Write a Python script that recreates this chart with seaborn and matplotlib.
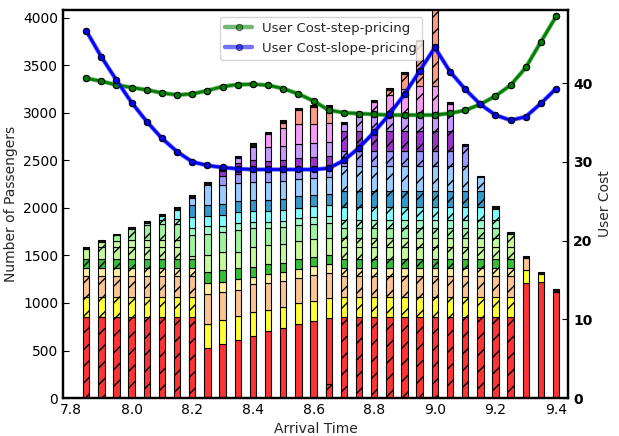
import matplotlib
matplotlib.use("Agg")
import matplotlib.pyplot as plt
import seaborn as sns
import numpy as np
import pandas as pd

sns.set_style("white")
plt.rcParams['font.family'] = ['DejaVu Sans']
plt.rcParams['hatch.linewidth'] = 1.0

# ---------------- data ----------------
arrival_time = [7.85, 7.90, 7.95, 8.00, 8.05, 8.10, 8.15, 8.20, 8.25, 8.30, 8.35,
                8.40, 8.45, 8.50, 8.55, 8.60, 8.65, 8.70, 8.75, 8.80, 8.85, 8.90,
                8.95, 9.00, 9.05, 9.10, 9.15, 9.20, 9.25, 9.30, 9.35, 9.40]

# user cost lines (right axis)
cost_step = [40.64, 40.25, 39.79, 39.45, 39.15, 38.77, 38.51, 38.64, 39.07, 39.58, 39.83,
             39.87, 39.75, 39.32, 38.64, 37.75, 36.58, 36.26, 36.14, 36.05, 35.96, 35.96,
             35.96, 35.96, 36.18, 36.56, 37.32, 38.38, 39.75, 42.00, 45.27, 48.49]
cost_slope = [46.67, 43.35, 40.38, 37.54, 35.12, 32.99, 31.30, 30.02, 29.55, 29.30, 29.13,
              29.04, 29.04, 29.04, 29.04, 29.04, 29.20, 30.19, 31.80, 33.80, 36.05, 38.60,
              41.57, 44.54, 41.48, 39.24, 37.32, 35.96, 35.29, 35.75, 37.45, 39.32]

# stacked passenger segments, step-pricing (hatched bars)
step_red      = [850, 850, 850, 850, 850, 850, 850, 850, 0, 0, 0, 0, 0, 0, 0, 0, 150,
                 850, 850, 850, 850, 850, 850, 850, 850, 850, 850, 850, 850, 0, 0, 0]
step_yellow   = [210, 210, 210, 210, 210, 210, 210, 210, 0, 0, 0, 0, 0, 0, 0, 0, 0,
                 210, 210, 210, 210, 210, 210, 210, 210, 210, 210, 210, 210, 0, 0, 0]
step_peach    = [225, 225, 225, 225, 225, 225, 225, 225, 0, 0, 0, 0, 0, 0, 0, 0, 0,
                 225, 225, 225, 225, 225, 225, 225, 225, 225, 225, 225, 225, 0, 0, 0]
step_khaki    = [80, 80, 80, 80, 80, 80, 80, 80, 0, 0, 0, 0, 0, 0, 0, 0, 0,
                 80, 80, 80, 80, 80, 80, 80, 80, 80, 80, 80, 80, 0, 0, 0]
step_green    = [100, 100, 100, 100, 100, 100, 100, 100, 0, 0, 0, 0, 0, 0, 0, 0, 0,
                 100, 100, 100, 100, 100, 100, 100, 100, 100, 100, 100, 100, 0, 0, 0]
step_lime     = [100, 125, 125, 125, 125, 125, 125, 0, 0, 0, 0, 0, 0, 0, 0, 0, 0,
                 128, 128, 128, 128, 128, 128, 128, 128, 128, 128, 128, 128, 0, 0, 0]
step_lime2    = [0, 50, 65, 75, 75, 75, 75, 0, 0, 0, 0, 0, 0, 0, 0, 0, 0,
                 90, 90, 90, 90, 90, 90, 90, 90, 90, 90, 90, 132, 0, 0, 0]
step_pale     = [0, 0, 55, 110, 150, 160, 160, 0, 0, 0, 0, 0, 0, 0, 0, 0, 0,
                 103, 103, 103, 103, 103, 103, 103, 103, 103, 103, 103, 0, 0, 0, 0]
step_aqua     = [0, 0, 0, 0, 25, 50, 55, 0, 0, 0, 0, 0, 0, 0, 0, 0, 0,
                 88, 88, 88, 88, 88, 88, 88, 88, 88, 88, 88, 0, 0, 0, 0]
step_cyan     = [0, 0, 0, 0, 0, 40, 100, 0, 0, 0, 0, 0, 0, 0, 0, 0, 0,
                 133, 133, 133, 133, 133, 133, 133, 133, 133, 133, 113, 0, 0, 0, 0]
step_steel    = [0, 0, 0, 0, 0, 0, 0, 0, 0, 0, 0, 0, 0, 0, 0, 0, 0,
                 165, 165, 165, 165, 165, 165, 165, 165, 165, 165, 0, 0, 0, 0, 0]
step_sky      = [0, 0, 0, 0, 0, 0, 0, 0, 0, 0, 0, 0, 0, 0, 0, 0, 0,
                 263, 263, 263, 263, 263, 263, 263, 263, 263, 148, 0, 0, 0, 0, 0]
step_slate    = [0, 0, 0, 0, 0, 0, 0, 0, 0, 0, 0, 0, 0, 0, 0, 0, 0,
                 165, 165, 165, 165, 165, 165, 165, 165, 215, 0, 0, 0, 0, 0, 0]
step_orchid   = [0, 0, 0, 0, 0, 0, 0, 0, 0, 0, 0, 0, 0, 0, 0, 0, 0,
                 203, 203, 203, 203, 203, 203, 203, 203, 0, 0, 0, 0, 0, 0, 0]
step_lavender = [0, 0, 0, 0, 0, 0, 0, 0, 0, 0, 0, 0, 0, 0, 0, 0, 0,
                 77, 185, 180, 180, 180, 180, 180, 180, 0, 0, 0, 0, 0, 0, 0]
step_violet   = [0, 0, 0, 0, 0, 0, 0, 0, 0, 0, 0, 0, 0, 0, 0, 0, 0,
                 0, 0, 127, 200, 270, 300, 300, 107, 0, 0, 0, 0, 0, 0, 0]
step_salmon   = [0, 0, 0, 0, 0, 0, 0, 0, 0, 0, 0, 0, 0, 0, 0, 0, 0,
                 0, 0, 0, 57, 157, 467, 867, 0, 0, 0, 0, 0, 0, 0, 0]
step_cap      = [20, 20, 20, 20, 20, 20, 25, 0, 0, 0, 0, 0, 0, 0, 0, 0, 0,
                 20, 20, 20, 20, 20, 20, 0, 20, 20, 20, 28, 20, 0, 0, 0]

# stacked passenger segments, slope-pricing (plain bars)
slope_red      = [0, 0, 0, 0, 0, 0, 0, 480, 523, 565, 610, 656, 700, 740, 775, 810, 840,
                  0, 0, 0, 0, 0, 0, 0, 0, 0, 0, 0, 0, 1207, 1225, 1120]
slope_yellow   = [0, 0, 0, 0, 0, 0, 0, 250, 256, 256, 253, 246, 230, 220, 220, 215, 210,
                  0, 0, 0, 0, 0, 0, 0, 0, 0, 0, 0, 0, 140, 80, 0]
slope_peach    = [0, 0, 0, 0, 0, 0, 0, 310, 312, 298, 274, 294, 280, 270, 270, 265, 265,
                  0, 0, 0, 0, 0, 0, 0, 0, 0, 0, 0, 0, 123, 0, 0]
slope_khaki    = [0, 0, 0, 0, 0, 0, 0, 110, 116, 105, 116, 74, 90, 95, 95, 95, 90,
                  0, 0, 0, 0, 0, 0, 0, 0, 0, 0, 0, 0, 0, 0, 0]
slope_green    = [0, 0, 0, 0, 0, 0, 0, 110, 116, 123, 119, 112, 105, 100, 100, 100, 100,
                  0, 0, 0, 0, 0, 0, 0, 0, 0, 0, 0, 0, 0, 0, 0]
slope_lime     = [0, 0, 0, 0, 0, 0, 0, 230, 182, 193, 168, 211, 200, 195, 190, 185, 180,
                  0, 0, 0, 0, 0, 0, 0, 0, 0, 0, 0, 0, 0, 0, 0]
slope_pale     = [0, 0, 0, 0, 0, 0, 0, 226, 218, 204, 228, 193, 180, 175, 170, 165, 160,
                  0, 0, 0, 0, 0, 0, 0, 0, 0, 0, 0, 0, 0, 0, 0]
slope_aqua     = [0, 0, 0, 0, 0, 0, 0, 77, 81, 67, 71, 70, 70, 70, 70, 70, 70,
                  0, 0, 0, 0, 0, 0, 0, 0, 0, 0, 0, 0, 0, 0, 0]
slope_cyan     = [0, 0, 0, 0, 0, 0, 0, 109, 112, 115, 115, 112, 110, 110, 110, 110, 110,
                  0, 0, 0, 0, 0, 0, 0, 0, 0, 0, 0, 0, 0, 0, 0]
slope_steel    = [0, 0, 0, 0, 0, 0, 0, 123, 116, 113, 120, 116, 120, 115, 120, 120, 120,
                  0, 0, 0, 0, 0, 0, 0, 0, 0, 0, 0, 0, 0, 0, 0]
slope_sky      = [0, 0, 0, 0, 0, 0, 0, 77, 210, 203, 186, 193, 190, 190, 185, 180, 180,
                  0, 0, 0, 0, 0, 0, 0, 0, 0, 0, 0, 0, 0, 0, 0]
slope_slate    = [0, 0, 0, 0, 0, 0, 0, 0, 0, 98, 98, 106, 100, 100, 100, 100, 100,
                  0, 0, 0, 0, 0, 0, 0, 0, 0, 0, 0, 0, 0, 0, 0]
slope_orchid   = [0, 0, 0, 0, 0, 0, 0, 0, 0, 50, 112, 122, 120, 120, 120, 120, 120,
                  0, 0, 0, 0, 0, 0, 0, 0, 0, 0, 0, 0, 0, 0, 0]
slope_lavender = [0, 0, 0, 0, 0, 0, 0, 0, 0, 0, 52, 140, 150, 150, 150, 145, 145,
                  0, 0, 0, 0, 0, 0, 0, 0, 0, 0, 0, 0, 0, 0, 0]
slope_violet   = [0, 0, 0, 0, 0, 0, 0, 0, 0, 0, 0, 0, 130, 190, 210, 200, 200,
                  0, 0, 0, 0, 0, 0, 0, 0, 0, 0, 0, 0, 0, 0, 0]
slope_salmon   = [0, 0, 0, 0, 0, 0, 0, 0, 0, 0, 0, 0, 0, 55, 140, 180, 170,
                  0, 0, 0, 0, 0, 0, 0, 0, 0, 0, 0, 0, 0, 0, 0]
slope_cap      = [0, 0, 0, 0, 0, 0, 0, 28, 35, 25, 25, 35, 25, 25, 25, 25, 20,
                  0, 0, 0, 0, 0, 0, 0, 0, 0, 0, 0, 0, 25, 25, 25]

layer_colors = ["#ff3333", "#ffff33", "#fcc490", "#fff099", "#33c133", "#c4fa9a",
                "#c4fa9a", "#9df59d", "#9cfccb", "#80ffff", "#3399cc", "#99ccff",
                "#9999ff", "#9933cc", "#c699ff", "#f59af5", "#ff9988", "#111111"]

step_layers = [step_red, step_yellow, step_peach, step_khaki, step_green, step_lime,
               step_lime2, step_pale, step_aqua, step_cyan, step_steel, step_sky,
               step_slate, step_orchid, step_lavender, step_violet, step_salmon, step_cap]
slope_layers = [slope_red, slope_yellow, slope_peach, slope_khaki, slope_green, slope_lime,
                [0] * len(arrival_time), slope_pale, slope_aqua, slope_cyan, slope_steel,
                slope_sky, slope_slate, slope_orchid, slope_lavender, slope_violet,
                slope_salmon, slope_cap]

# ---------------- figure ----------------
fig = plt.figure(figsize=(6.19, 4.36), dpi=100)
ax = fig.add_axes([0.102, 0.087, 0.816, 0.890])

x = np.array(arrival_time)
width = 0.021

def draw_stack(layers, hatch, z):
    bottom = np.zeros(len(x))
    for vals, col in zip(layers, layer_colors):
        v = np.array(vals, dtype=float)
        mask = v > 0
        ax.bar(x[mask], v[mask], width=width, bottom=bottom[mask], color=col,
               edgecolor="black", linewidth=0.8, hatch=hatch, zorder=z)
        bottom += v

draw_stack(slope_layers, None, 2)
draw_stack(step_layers, "//", 3)

ax.set_xlim(7.774, 9.44)
ax.set_ylim(0, 4080)
ax.set_xticks([7.8, 8.0, 8.2, 8.4, 8.6, 8.8, 9.0, 9.2, 9.4])
ax.set_yticks(range(0, 4001, 500))
ax.set_xlabel("Arrival Time", fontsize=10)
ax.set_ylabel("Number of Passengers", fontsize=10)
ax.tick_params(direction="in", length=4, labelsize=10, colors="black")

ax2 = ax.twinx()
df = pd.DataFrame({"t": arrival_time, "step": cost_step, "slope": cost_slope})
sns.lineplot(data=df, x="t", y="step", ax=ax2, color="green", lw=3.2, alpha=0.55,
             marker="o", markersize=4.5, markeredgecolor="black", markeredgewidth=0.8,
             label="User Cost-step-pricing")
sns.lineplot(data=df, x="t", y="slope", ax=ax2, color="blue", lw=3.2, alpha=0.55,
             marker="o", markersize=4.5, markeredgecolor="black", markeredgewidth=0.8,
             label="User Cost-slope-pricing")
sns.lineplot(data=df, x="t", y="step", ax=ax2, color="green", lw=2.0,
             marker="o", markersize=4.5, markerfacecolor="green",
             markeredgecolor="black", markeredgewidth=0.8, legend=False)
sns.lineplot(data=df, x="t", y="slope", ax=ax2, color="blue", lw=2.0,
             marker="o", markersize=4.5, markerfacecolor="blue",
             markeredgecolor="black", markeredgewidth=0.8, legend=False)

ax2.set_ylim(0, 49.3)
ax2.set_yticks([0, 10, 20, 30, 40])
ax2.set_ylabel("User Cost", fontsize=10)
ax2.set_xlabel("")
ax2.tick_params(direction="in", length=4, labelsize=10, colors="black")
for lab in ax2.get_yticklabels():
    lab.set_fontweight("bold")
ax2.set_xlim(7.774, 9.44)

for a in (ax, ax2):
    for s in a.spines.values():
        s.set_linewidth(1.6)
        s.set_color("black")

ax2.legend(loc="upper center", bbox_to_anchor=(0.511, 1.0), fontsize=9.5,
           framealpha=0.8)

fig.savefig("out.png", dpi=100)
